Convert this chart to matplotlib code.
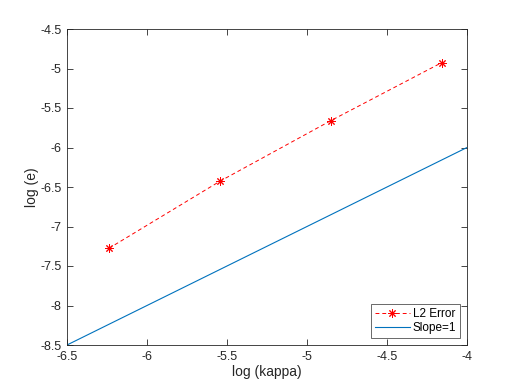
import matplotlib
matplotlib.use('Agg')
import matplotlib.pyplot as plt

# data
log_kappa = [-6.238, -5.545, -4.852, -4.159]
log_err = [-7.276, -6.428, -5.661, -4.927]
slope_x = [-6.5, -4.0]
slope_y = [-8.5, -6.0]

plt.rcParams['font.family'] = ['Liberation Sans', 'DejaVu Sans']
axis_col = '#262626'

fig = plt.figure(figsize=(5.18, 3.88), dpi=100)
ax = fig.add_axes([67 / 518, 43 / 388, 400 / 518, 316 / 388])

ax.plot(log_kappa, log_err, color='r', linestyle='--', linewidth=0.7,
        dashes=(4, 3), marker=(8, 2, 0), markersize=6, markeredgewidth=0.7,
        label='L2 Error')
ax.plot(slope_x, slope_y, color='#0072BD', linewidth=0.8, label='Slope=1')

ax.set_xlim(-6.5, -4)
ax.set_ylim(-8.5, -4.5)
ax.set_xticks([-6.5, -6, -5.5, -5, -4.5, -4])
ax.set_xticklabels(['-6.5', '-6', '-5.5', '-5', '-4.5', '-4'])
ax.set_yticks([-8.5, -8, -7.5, -7, -6.5, -6, -5.5, -5, -4.5])
ax.set_yticklabels(['-8.5', '-8', '-7.5', '-7', '-6.5', '-6', '-5.5', '-5', '-4.5'])

ax.tick_params(direction='in', top=True, right=True, length=4, width=0.6,
               colors=axis_col, labelsize=9, pad=4)
for s in ax.spines.values():
    s.set_color(axis_col)
    s.set_linewidth(0.6)

ax.set_xlabel('log (kappa)', fontsize=10, color=axis_col, labelpad=2)
ax.set_ylabel('log (e)', fontsize=10, color=axis_col, labelpad=1)

leg = ax.legend(loc='lower right', fontsize=8.5, frameon=True, fancybox=False,
                edgecolor=axis_col, borderpad=0.3, handlelength=3.0,
                handletextpad=0.25, borderaxespad=0.6, labelspacing=0.2)
leg.get_frame().set_linewidth(0.6)

fig.savefig('out.png', dpi=100)
